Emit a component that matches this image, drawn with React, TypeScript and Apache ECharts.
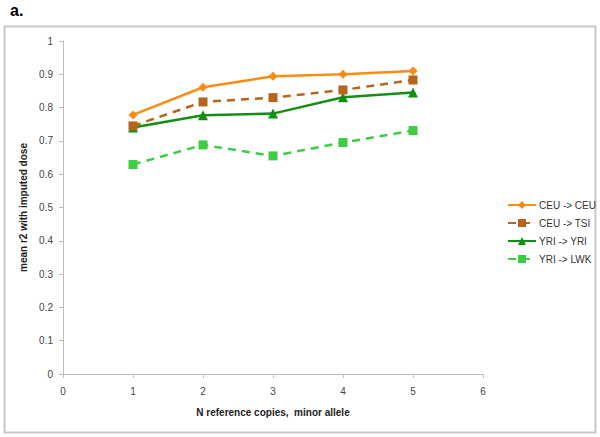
import React, { useEffect, useRef } from "react";
import * as echarts from "echarts";

const xValues = [1, 2, 3, 4, 5];
const seriesNames = ["CEU -> CEU", "CEU -> TSI", "YRI -> YRI", "YRI -> LWK"];
const ceuCeu = [0.778, 0.861, 0.894, 0.9, 0.91];
const ceuTsi = [0.745, 0.817, 0.83, 0.853, 0.883];
const yriYri = [0.74, 0.777, 0.782, 0.831, 0.845];
const yriLwk = [0.629, 0.688, 0.655, 0.695, 0.731];

const colors = ["#ff8a14", "#b5651d", "#138f13", "#3fcc45"];
const symbols = ["diamond", "rect", "triangle", "rect"];
const dashed = [false, true, false, true];

export default function App() {
  const ref = useRef<HTMLDivElement>(null);
  useEffect(() => {
    const chart = echarts.init(ref.current!, null, { renderer: "svg" });
    const all = [ceuCeu, ceuTsi, yriYri, yriLwk];
    chart.setOption({
      animation: false,
      backgroundColor: "#fff",
      textStyle: { fontFamily: "Liberation Sans, Arial, sans-serif" },
      graphic: [
        {
          type: "rect",
          shape: { x: 4.5, y: 26.5, width: 591, height: 406 },
          style: { fill: "none", stroke: "#c8c8c8", lineWidth: 2 },
          z: -1,
        },
        {
          type: "text",
          left: 10,
          top: 2,
          style: { text: "a.", font: "bold 16px Liberation Sans, Arial, sans-serif", fill: "#000" },
        },
      ],
      grid: { left: 63, right: 117, top: 41, bottom: 63 },
      legend: {
        orient: "vertical",
        left: 502,
        top: 195,
        itemWidth: 28,
        itemHeight: 10,
        itemGap: 8,
        data: seriesNames,
        textStyle: { fontSize: 10, color: "#333", padding: [0, 0, 0, -2] },
      },
      xAxis: {
        type: "value",
        min: 0,
        max: 6,
        interval: 1,
        name: "N reference copies,  minor allele",
        nameLocation: "middle",
        nameGap: 33,
        nameTextStyle: { fontSize: 10, fontWeight: "bold", color: "#222" },
        axisLine: { lineStyle: { color: "#bdbdbd", width: 1 } },
        axisTick: { show: true, length: 4, lineStyle: { color: "#bdbdbd" } },
        axisLabel: { fontSize: 10, color: "#444", margin: 12 },
        splitLine: { show: false },
      },
      yAxis: {
        type: "value",
        min: 0,
        max: 1,
        interval: 0.1,
        name: "mean r2 with imputed dose",
        nameLocation: "middle",
        nameGap: 30,
        nameTextStyle: { fontSize: 10, fontWeight: "bold", color: "#222" },
        axisLine: { show: true, lineStyle: { color: "#bdbdbd", width: 1 } },
        axisTick: { show: true, length: 4, lineStyle: { color: "#bdbdbd" } },
        axisLabel: { fontSize: 10, color: "#444", margin: 10 },
        splitLine: { show: false },
      },
      series: seriesNames.map((name, i) => ({
        name,
        type: "line",
        data: xValues.map((x, j) => [x, all[i][j]]),
        symbol: symbols[i],
        symbolSize: symbols[i] === "rect" ? 9 : symbols[i] === "diamond" ? 9 : 10,
        color: colors[i],
        lineStyle: { color: colors[i], width: 2.5, type: dashed[i] ? [8, 6] : "solid" },
        itemStyle: { color: colors[i] },
        z: 10 - i,
      })),
    });
    return () => chart.dispose();
  }, []);
  return <div ref={ref} style={{ width: 600, height: 437, position: "absolute", left: 0, top: 0 }} />;
}
